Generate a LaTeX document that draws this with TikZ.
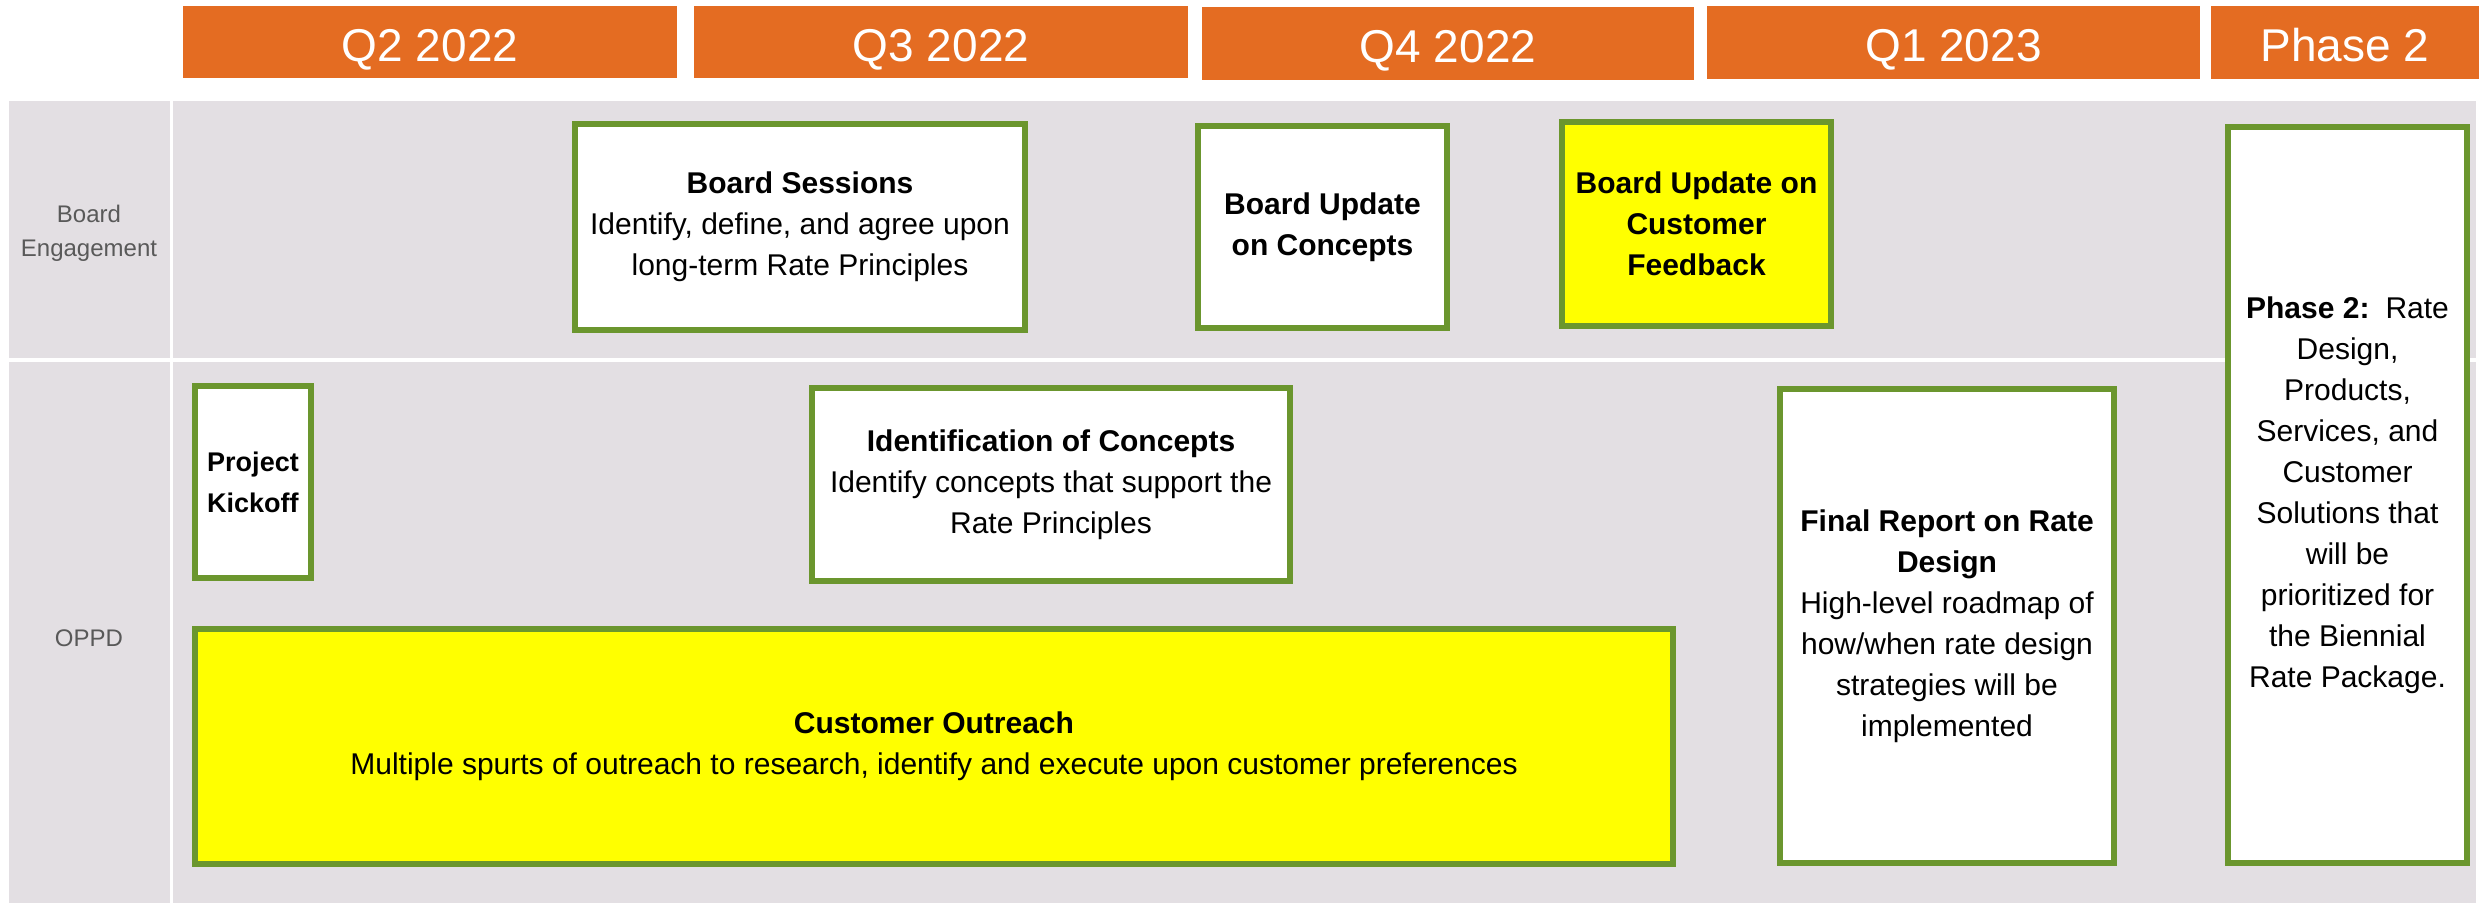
\documentclass[tikz,border=0pt]{standalone}
\usepackage{fontspec}
\setmainfont{Liberation Sans}
\definecolor{hdr}{RGB}{228,108,34}
\definecolor{bg}{RGB}{227,223,227}
\definecolor{grn}{RGB}{107,150,46}
\definecolor{lbl}{RGB}{89,89,89}
\definecolor{ylw}{RGB}{255,255,0}
\begin{document}
\begin{tikzpicture}[x=1pt,y=-1pt,
  hdrbox/.style={fill=hdr, draw=none, inner sep=0pt, text=white, text height=38pt, text depth=0pt, font=\fontsize{46}{50}\selectfont},
  taskbox/.style={draw=grn, line width=6pt, fill=white, align=center, inner sep=0pt, font=\fontsize{30}{41}\selectfont},
  hlbox/.style={taskbox, fill=ylw},
  lanelabel/.style={text=lbl, align=center, inner sep=0pt, font=\fontsize{24}{34}\selectfont}
]
\fill[white] (0,0) rectangle (2479,903);
\useasboundingbox (0,0) rectangle (2479,903);
% lanes
\fill[bg] (9,101) rectangle (2476,903);
\fill[white] (170,101) rectangle (173,903);
\fill[white] (9,358) rectangle (2476,362);
% headers
\node[hdrbox, minimum width=494pt, minimum height=72pt] (q2) at (430,42) {Q2 2022};
\node[hdrbox, minimum width=494pt, minimum height=72pt] (q3) at (941,42) {Q3 2022};
\node[hdrbox, minimum width=492pt, minimum height=73pt] (q4) at (1448,43.5) {Q4 2022};
\node[hdrbox, minimum width=493pt, minimum height=73pt] (q1) at (1953.5,42.5) {Q1 2023};
\node[hdrbox, minimum width=268pt, minimum height=73pt] (ph) at (2345,42.5) {Phase 2};
% lane labels
\node[lanelabel] (lbe) at (89,233) {Board\\Engagement};
\node[lanelabel] (lop) at (89,638) {OPPD};
% board engagement
\node[taskbox, minimum width=450pt, minimum height=206pt] (sessions) at (800,227)
  {\textbf{Board Sessions}\\Identify, define, and agree upon\\long-term Rate Principles};
\node[taskbox, minimum width=249pt, minimum height=202pt] (bconc) at (1322.5,227)
  {\textbf{Board Update}\\\textbf{on Concepts}};
\node[hlbox, minimum width=269pt, minimum height=204pt] (bfeed) at (1696.5,224)
  {\textbf{Board Update on}\\\textbf{Customer}\\\textbf{Feedback}};
% OPPD
\node[taskbox, minimum width=116pt, minimum height=192pt, font=\fontsize{27}{41}\selectfont] (kick) at (253,482)
  {\textbf{Project}\\\textbf{Kickoff}};
\node[taskbox, minimum width=478pt, minimum height=193pt] (ident) at (1051,484.5)
  {\textbf{Identification of Concepts}\\Identify concepts that support the\\Rate Principles};
\node[hlbox, minimum width=1478pt, minimum height=235pt] (outreach) at (934,746.5)
  {\textbf{Customer Outreach}\\Multiple spurts of outreach to research, identify and execute upon customer preferences};
\node[taskbox, minimum width=334pt, minimum height=474pt] (final) at (1947,626)
  {\textbf{Final Report on Rate}\\\textbf{Design}\\High-level roadmap of\\how/when rate design\\strategies will be\\implemented};
\node[taskbox, minimum width=239pt, minimum height=736pt] (phase) at (2347.5,495)
  {\textbf{Phase 2:}\hspace{16pt}Rate\\Design,\\Products,\\Services, and\\Customer\\Solutions that\\will be\\prioritized for\\the Biennial\\Rate Package.};
\end{tikzpicture}
\end{document}
